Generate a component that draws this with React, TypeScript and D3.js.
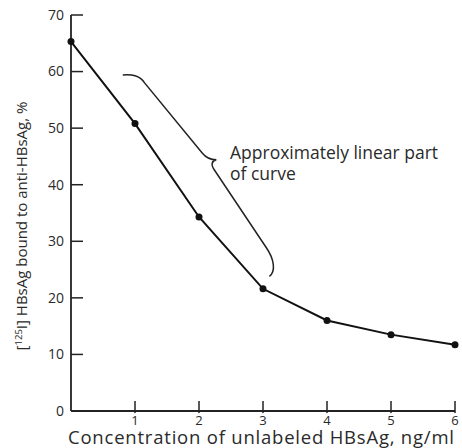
import React from "react";
import * as d3 from "d3";

const concentrations = [0, 1, 2, 3, 4, 5, 6];
const boundPercent = [65.3, 50.8, 34.3, 21.6, 16.0, 13.5, 11.7];
const yTicks = [0, 10, 20, 30, 40, 50, 60, 70];
const xTicks = [1, 2, 3, 4, 5, 6];

const W = 462;
const H = 448;

export default function App() {
  const x = d3.scaleLinear().domain([0, 6]).range([71, 455]);
  const y = d3.scaleLinear().domain([0, 70]).range([411, 15]);
  const data = concentrations.map((c, i) => [c, boundPercent[i]] as [number, number]);
  const line = d3
    .line<[number, number]>()
    .x((d) => x(d[0]))
    .y((d) => y(d[1]));

  // brace annotation in data units
  const P = (a: number, b: number) => `${x(a).toFixed(1)},${y(b).toFixed(1)}`;
  const brace =
    `M${P(0.81, 59.4)} ` +
    `C${P(0.95, 59.5)} ${P(1.07, 59.4)} ${P(1.15, 58.0)} ` +
    `L${P(2.05, 45.6)} ` +
    `C${P(2.12, 44.6)} ${P(2.2, 44.4)} ${P(2.27, 44.4)} ` +
    `C${P(2.2, 44.2)} ${P(2.18, 43.6)} ${P(2.24, 42.6)} ` +
    `L${P(3.05, 28.9)} ` +
    `C${P(3.18, 26.8)} ${P(3.2, 24.6)} ${P(3.1, 23.8)}`;

  const font = "'Open Sans', 'DejaVu Sans', sans-serif";
  const textColor = "#2a2a2a";

  return (
    <svg
      width={W}
      height={H}
      style={{ position: "absolute", left: 0, top: 0, background: "#fff" }}
      fontFamily={font}
    >
      {/* axes */}
      <line x1={x(0)} x2={x(0)} y1={y(70)} y2={y(0)} stroke="#222" strokeWidth={1.8} />
      <line x1={x(0)} x2={x(6)} y1={y(0)} y2={y(0)} stroke="#222" strokeWidth={1.8} />
      {yTicks.map((t) => (
        <g key={"y" + t}>
          {t > 0 && (
            <line x1={x(0)} x2={x(0) + 12} y1={y(t)} y2={y(t)} stroke="#222" strokeWidth={1.5} />
          )}
          <text
            x={x(0) - 7}
            y={y(t)}
            dy="0.35em"
            textAnchor="end"
            fontSize={14}
            fill={textColor}
          >
            {t}
          </text>
        </g>
      ))}
      {xTicks.map((t) => (
        <g key={"x" + t}>
          <line x1={x(t)} x2={x(t)} y1={y(0) - 10} y2={y(0) + 2} stroke="#222" strokeWidth={1.5} />
          <text x={x(t)} y={y(0) + 14} textAnchor="middle" fontSize={13} fill={textColor}>
            {t}
          </text>
        </g>
      ))}
      <text
        x={68}
        y={444}
        fontSize={18.5}
        fill={textColor}
        textLength={386}
        lengthAdjust="spacing"
      >
        Concentration of unlabeled HBsAg, ng/ml
      </text>
      <text
        transform={`translate(27, ${226}) rotate(-90)`}
        textAnchor="middle"
        fontSize={15}
        fill={textColor}
      >
        <tspan>[</tspan>
        <tspan fontSize={9.5} dy={-5.5}>125</tspan>
        <tspan dy={5.5}>I] HBsAg bound to anti-HBsAg, %</tspan>
      </text>

      {/* curve */}
      <path d={line(data) || ""} fill="none" stroke="#111" strokeWidth={2} />
      {data.map((d, i) => (
        <circle key={i} cx={x(d[0])} cy={y(d[1])} r={3.5} fill="#111" />
      ))}

      {/* annotation */}
      <path d={brace} fill="none" stroke="#222" strokeWidth={1.5} />
      <text x={230} y={159} fontSize={17.5} fill={textColor}>
        Approximately linear part
      </text>
      <text x={230} y={180} fontSize={17.5} fill={textColor}>
        of curve
      </text>
    </svg>
  );
}
